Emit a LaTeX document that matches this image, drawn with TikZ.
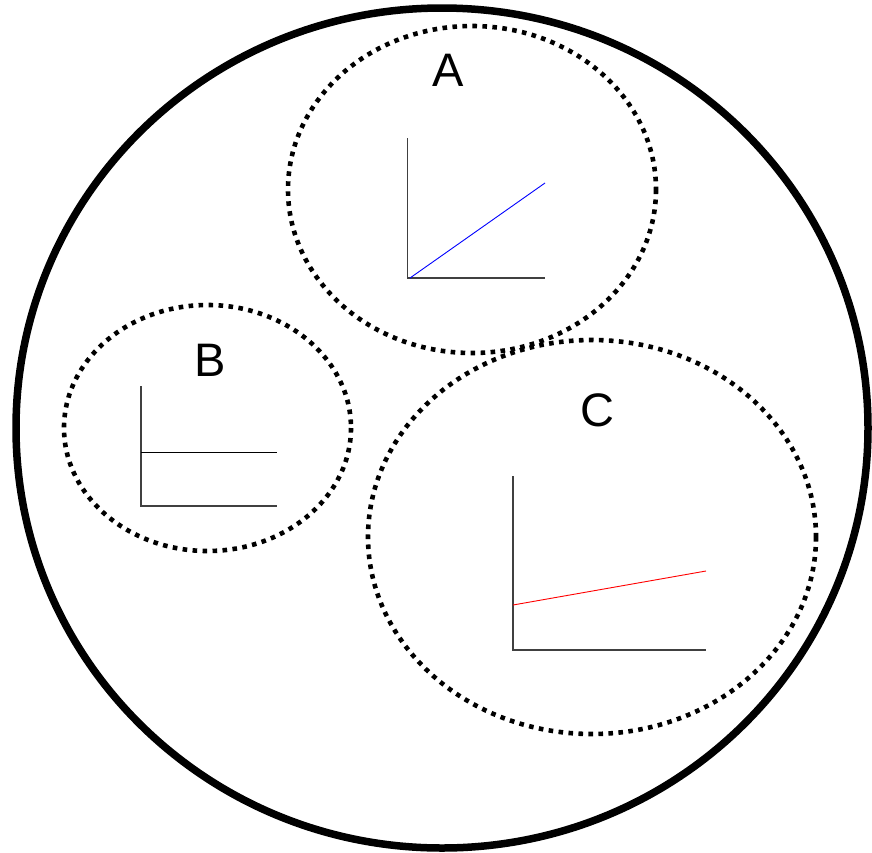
\documentclass[tikz,border=0pt]{standalone}
\usepackage{fontspec}
\setmainfont{Liberation Sans}
\begin{document}
\begin{tikzpicture}[x=1pt,y=-1pt,
  outer/.style={line width=7.5pt},
  dotring/.style={line width=4.6pt,dash pattern=on 4.6pt off 5.4pt},
  axis/.style={line width=1.1pt,black!75},
  lbl/.style={inner sep=0pt,font=\fontsize{47}{47}\selectfont}]
\useasboundingbox (0,0) rectangle (872,852);
\draw[outer] (442,428) ellipse [x radius=426, y radius=420];
\draw[dotring] (472,189.5) ellipse [x radius=184, y radius=163.5];
\draw[dotring] (207.5,428) ellipse [x radius=143.5, y radius=123];
\draw[dotring] (592,537) ellipse [x radius=224, y radius=197];
\node[lbl] (A) at (448,70.5) {A};
\node[lbl] (B) at (210,360.5) {B};
\node[lbl] (C) at (597,410.5) {C};
% chart A
\coordinate (a0) at (407.5,278);
\coordinate (atop) at (407.5,138);
\coordinate (aright) at (545,278);
\coordinate (ablue) at (545,183);
\draw[axis] (atop) -- (a0) -- (aright);
\draw[blue,line width=0.9pt] (410,278) -- (ablue);
% chart B
\coordinate (b0) at (141,506);
\coordinate (btop) at (141,386);
\coordinate (bright) at (277,506);
\coordinate (bm0) at (141,452);
\coordinate (bm1) at (277,452);
\draw[axis] (btop) -- (b0) -- (bright);
\draw[black,line width=1pt] (bm0) -- (bm1);
% chart C
\coordinate (c0) at (513,650);
\coordinate (ctop) at (513,476);
\coordinate (cright) at (706,650);
\coordinate (cr0) at (513,605);
\coordinate (cr1) at (706,571);
\draw[axis] (ctop) -- (c0) -- (cright);
\draw[red,line width=0.9pt] (cr0) -- (cr1);
\end{tikzpicture}
\end{document}
